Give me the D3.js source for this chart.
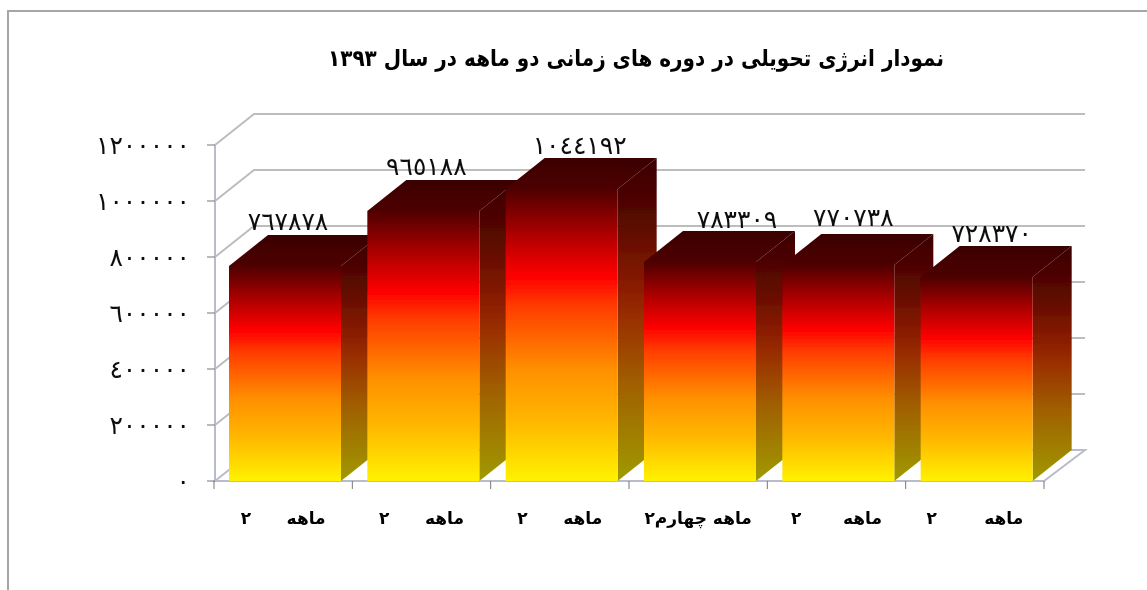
<!DOCTYPE html>
<html>
<head>
<meta charset="utf-8">
<script src="https://cdn.jsdelivr.net/npm/d3@7"></script>
<style>
  html, body { margin: 0; padding: 0; background: #fff; overflow: hidden; }
  svg { display: block; font-family: "DejaVu Sans", sans-serif; }
  .catLabel { white-space: pre; font-weight: bold; font-size: 17px; fill: #000; }
  .tick-label, .val-label { font-size: 25px; fill: #111; }
</style>
</head>
<body>
<svg></svg>
<script>
  var width = 1147;
  var height = 590;

  var categories = ['ماهه      ۲', 'ماهه      ۲', 'ماهه      ۲', 'ماهه چهارم۲', 'ماهه       ۲', 'ماهه        ۲'];
  var values = [767878, 965188, 1044192, 783309, 770738, 728370];
  var yTicks = [0, 200000, 400000, 600000, 800000, 1000000, 1200000];
  var title = 'نمودار انرژی تحویلی در دوره های زمانی دو ماهه در سال ۱۳۹۳';

  // 3d offset of the box
  var depthX = 39;
  var depthY = -31;

  var x = d3.scaleBand().domain(d3.range(categories.length)).range([214, 1044]).paddingInner(0);
  var y = d3.scaleLinear().domain([0, 1200000]).rangeRound([481, 145]);
  var barW = 112;
  var barPad = 15;

  // data labels were moved by hand in the original
  var labelDx = [-36, -36, -21, -2, -24, -24];
  var labelDy = [-5, -5, -4, -3, -8, -4];

  // arabic digits, the picture has them in ٤ ٥ ٦ form
  var fa = function (n) {
    return String(n).replace(/\d/g, function (c) { return '٠١٢٣٤٥٦٧٨٩'[+c]; });
  };

  var svg = d3.select('svg').attr('width', width).attr('height', height);
  var defs = svg.append('defs');

  function gradient(id, stops) {
    var g = defs.append('linearGradient').attr('id', id).attr('x1', 0).attr('y1', 0).attr('x2', 0).attr('y2', 1);
    stops.forEach(function (s) {
      g.append('stop').attr('offset', s[0]).attr('stop-color', s[1]);
    });
  }
  gradient('front', [[0, '#4e0000'], [0.16, '#b00000'], [0.3, '#ff0000'], [0.4, '#ff3c00'], [0.62, '#ff9000'], [0.8, '#ffb800'], [1, '#fff200']]);
  gradient('side', [[0, '#3a0000'], [0.2, '#5a0800'], [0.4, '#8a1c00'], [0.5, '#9a3000'], [0.7, '#a06000'], [1, '#a09a00']]);
  gradient('topFace', [[0, '#3a0000'], [1, '#4e0000']]);
  defs.append('filter').attr('id', 'soft').append('feGaussianBlur').attr('stdDeviation', 0.5);

  var root = svg.append('g').attr('filter', 'url(#soft)');

  // frame
  root.append('path')
    .attr('d', 'M8,590V11H1147')
    .attr('fill', 'none')
    .attr('stroke', '#a6a6a6')
    .attr('stroke-width', 2);

  root.append('text')
    .attr('x', 636)
    .attr('y', 66)
    .attr('text-anchor', 'middle')
    .attr('direction', 'rtl')
    .attr('font-size', 23)
    .attr('font-weight', 'bold')
    .attr('textLength', 616)
    .attr('lengthAdjust', 'spacingAndGlyphs')
    .text(title);

  var right = x.range()[1];
  var left = x.range()[0] + 1;

  // walls and grid
  root.selectAll('.grid')
    .data(yTicks.slice(1))
    .enter()
    .append('path')
    .attr('class', 'grid')
    .attr('fill', 'none')
    .attr('stroke', '#bdbdbd')
    .attr('stroke-width', 2)
    .attr('d', function (d) {
      return 'M' + left + ',' + y(d) + 'L' + (left + depthX) + ',' + (y(d) + depthY) + 'H1085';
    });

  root.append('path')
    .attr('d', 'M' + left + ',' + y(0) + 'H' + right + 'l' + 41 + ',' + depthY + 'H' + (left + depthX) + 'Z')
    .attr('fill', '#fff')
    .attr('stroke', '#b9bccb')
    .attr('stroke-width', 2);

  root.append('line')
    .attr('x1', left).attr('x2', left)
    .attr('y1', y(1200000)).attr('y2', y(0))
    .attr('stroke', '#b9bccb')
    .attr('stroke-width', 2);

  // bars
  var bars = root.selectAll('.bar')
    .data(values)
    .enter()
    .append('g')
    .attr('class', 'bar');

  bars.append('path')
    .attr('fill', 'url(#side)')
    .attr('d', function (d, i) {
      var x1 = x(i) + barPad + barW;
      return 'M' + x1 + ',' + y(0) + 'V' + y(d) + 'l' + depthX + ',' + depthY + 'V' + (y(0) + depthY) + 'Z';
    });
  bars.append('path')
    .attr('fill', 'url(#topFace)')
    .attr('d', function (d, i) {
      var x0 = x(i) + barPad;
      return 'M' + x0 + ',' + y(d) + 'l' + depthX + ',' + depthY + 'h' + barW + 'l' + (-depthX) + ',' + (-depthY) + 'Z';
    });
  bars.append('rect')
    .attr('fill', 'url(#front)')
    .attr('x', function (d, i) { return x(i) + barPad; })
    .attr('y', function (d) { return y(d); })
    .attr('width', barW)
    .attr('height', function (d) { return y(0) - y(d); });

  // axis ticks
  root.append('g')
    .selectAll('line')
    .data(yTicks)
    .enter()
    .append('line')
    .attr('x1', 207).attr('x2', 215)
    .attr('y1', function (d) { return y(d); })
    .attr('y2', function (d) { return y(d); })
    .attr('stroke', '#777');

  root.append('g')
    .selectAll('line')
    .data(d3.range(categories.length + 1))
    .enter()
    .append('line')
    .attr('x1', function (d) { return d === categories.length ? right : x(d); })
    .attr('x2', function (d) { return d === categories.length ? right : x(d); })
    .attr('y1', 481).attr('y2', 489)
    .attr('stroke', '#777');

  root.append('g')
    .selectAll('text')
    .data(yTicks)
    .enter()
    .append('text')
    .attr('class', 'tick-label')
    .attr('x', 190)
    .attr('y', function (d) { return y(d) + 9; })
    .attr('text-anchor', 'end')
    .text(function (d) { return fa(d); });

  root.append('g')
    .selectAll('text')
    .data(categories)
    .enter()
    .append('text')
    .attr('class', 'catLabel')
    .attr('direction', 'rtl')
    .attr('text-anchor', 'middle')
    .attr('x', function (d, i) { return x(i) + x.bandwidth() / 2; })
    .attr('y', 524)
    .text(function (d) { return d; });

  root.append('g')
    .selectAll('text')
    .data(values)
    .enter()
    .append('text')
    .attr('class', 'val-label')
    .attr('text-anchor', 'middle')
    .attr('x', function (d, i) { return x(i) + barPad + depthX + barW / 2 + labelDx[i]; })
    .attr('y', function (d, i) { return y(d) + depthY + labelDy[i]; })
    .text(function (d) { return fa(d); });
</script>
</body>
</html>
